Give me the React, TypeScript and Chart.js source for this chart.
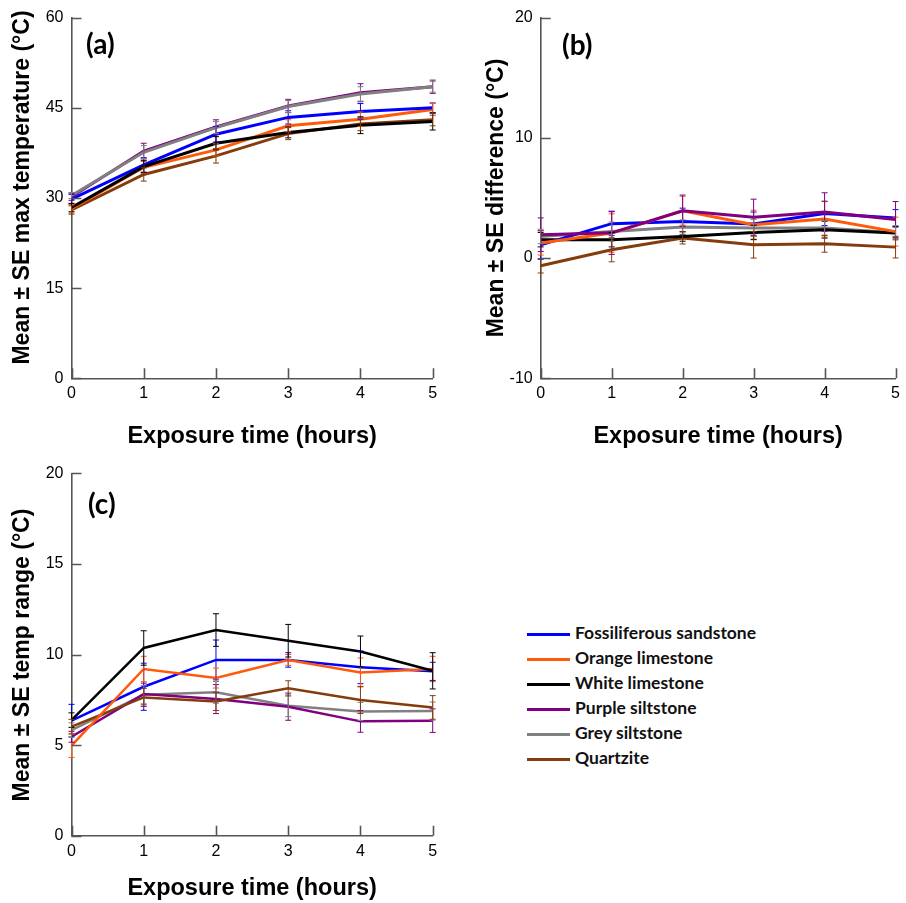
import React, { useEffect, useRef } from 'react';
import { Chart, registerables } from 'chart.js';

Chart.register(...registerables);

// ---------- data ----------
const hours = ['0', '1', '2', '3', '4', '5'];
const rockNames = [
  'Fossiliferous sandstone',
  'Orange limestone',
  'White limestone',
  'Purple siltstone',
  'Grey siltstone',
  'Quartzite',
];
const rockColors = ['#0000ff', '#ff5a0a', '#000000', '#800080', '#808080', '#843c0c'];

// (a) mean max temperature
const maxFossiliferous = [29.8, 35.5, 40.6, 43.4, 44.4, 45.0];
const maxOrange = [28.2, 35.1, 38.0, 42.0, 43.1, 44.7];
const maxWhite = [28.4, 35.2, 39.1, 40.9, 42.1, 42.7];
const maxPurple = [30.2, 37.8, 41.8, 45.3, 47.5, 48.5];
const maxGrey = [30.4, 37.6, 41.7, 45.2, 47.3, 48.5];
const maxQuartzite = [28.0, 33.9, 37.0, 40.7, 42.3, 43.0];
const maxFossiliferousSE = [0.8, 1.2, 1.3, 1.1, 1.3, 0.8];
const maxOrangeSE = [0.7, 1.0, 1.0, 1.0, 1.2, 1.0];
const maxWhiteSE = [0.7, 1.0, 1.1, 0.9, 1.4, 1.4];
const maxPurpleSE = [0.6, 1.3, 1.2, 1.1, 1.5, 1.1];
const maxGreySE = [0.5, 1.1, 1.0, 1.0, 1.2, 0.9];
const maxQuartziteSE = [0.7, 1.1, 1.2, 1.0, 1.1, 1.0];

// (b) mean difference
const diffFossiliferous = [1.1, 2.86, 3.05, 2.83, 3.7, 3.33];
const diffOrange = [1.25, 2.08, 3.94, 2.78, 3.25, 2.2];
const diffWhite = [1.53, 1.53, 1.8, 2.13, 2.36, 2.08];
const diffPurple = [1.94, 2.1, 3.94, 3.4, 3.83, 3.2];
const diffGrey = [1.8, 2.2, 2.58, 2.5, 2.5, 2.1];
const diffQuartzite = [-0.64, 0.69, 1.67, 1.1, 1.19, 0.91];
const diffFossiliferousSE = [1.2, 1.0, 1.1, 1.0, 1.0, 0.7];
const diffOrangeSE = [1.0, 1.6, 1.2, 1.2, 1.5, 1.2];
const diffWhiteSE = [0.6, 0.6, 0.4, 0.6, 0.7, 0.5];
const diffPurpleSE = [1.4, 1.8, 1.3, 1.5, 1.6, 1.5];
const diffGreySE = [0.6, 0.8, 0.6, 0.7, 0.6, 0.6];
const diffQuartziteSE = [0.6, 1.0, 0.5, 1.1, 0.7, 0.9];

// (c) mean temperature range
const rangeFossiliferous = [6.35, 8.22, 9.7, 9.7, 9.29, 9.07];
const rangeOrange = [4.97, 9.2, 8.7, 9.7, 9.01, 9.2];
const rangeWhite = [6.38, 10.36, 11.35, 10.76, 10.17, 9.1];
const rangePurple = [5.46, 7.82, 7.54, 7.12, 6.31, 6.35];
const rangeGrey = [5.83, 7.78, 7.91, 7.17, 6.86, 6.88];
const rangeQuartzite = [6.02, 7.63, 7.41, 8.13, 7.49, 7.08];
const rangeFossiliferousSE = [0.9, 1.3, 1.1, 0.4, 0.9, 0.5];
const rangeOrangeSE = [0.65, 0.7, 0.55, 0.3, 0.8, 0.7];
const rangeWhiteSE = [0.4, 0.95, 0.9, 0.9, 0.85, 1.0];
const rangePurpleSE = [0.3, 0.6, 0.8, 0.75, 0.6, 0.65];
const rangeGreySE = [0.4, 0.5, 0.6, 0.6, 0.5, 0.5];
const rangeQuartziteSE = [0.4, 0.5, 0.5, 0.42, 0.75, 0.65];

// ---------- styling ----------
const AXIS_COLOR = '#555555';
const SANS = '"Liberation Sans", Arial, sans-serif';
const LABEL_FONT = 'Lato, "Liberation Sans", sans-serif';

const decoPlugin = {
  id: 'panelDeco',
  afterDraw(chart: any, _args: any, opts: any) {
    const { ctx, chartArea } = chart;
    const xs = chart.scales.x;
    const ys = chart.scales.y;
    ctx.save();
    ctx.strokeStyle = AXIS_COLOR;
    ctx.lineWidth = 1.6;
    ctx.beginPath();
    const yTicks = ys.ticks || [];
    for (let i = 0; i < yTicks.length; i++) {
      const py = Math.round(ys.getPixelForValue(yTicks[i].value)) + 0.5;
      ctx.moveTo(chartArea.left, py);
      ctx.lineTo(chartArea.left + 10, py);
    }
    const xTicks = xs.ticks || [];
    for (let i = 0; i < xTicks.length; i++) {
      const px = Math.round(xs.getPixelForValue(i)) + 0.5;
      ctx.moveTo(px, chartArea.bottom);
      ctx.lineTo(px, chartArea.bottom - 10);
    }
    ctx.stroke();

    ctx.fillStyle = '#000';
    ctx.font = `bold 28px ${LABEL_FONT}`;
    ctx.textAlign = 'left';
    ctx.textBaseline = 'middle';
    ctx.fillText(opts.letter, opts.letterX, opts.letterY);

    ctx.translate(opts.yTitleX, opts.yTitleY);
    ctx.rotate(-Math.PI / 2);
    ctx.font = `bold 23px ${SANS}`;
    ctx.textAlign = 'center';
    ctx.textBaseline = 'middle';
    ctx.fillText(opts.yTitle, 0, 0);
    ctx.restore();
  },
  afterDatasetsDraw(chart: any) {
    const { ctx } = chart;
    const ys = chart.scales.y;
    const xs = chart.scales.x;
    ctx.save();
    ctx.lineWidth = 1;
    chart.data.datasets.forEach((ds: any) => {
      const errs: number[] = ds.errors || [];
      ctx.strokeStyle = ds.borderColor;
      ctx.beginPath();
      ds.data.forEach((v: number, i: number) => {
        const e = errs[i] || 0;
        const px = xs.getPixelForValue(i);
        const top = ys.getPixelForValue(v + e);
        const bot = ys.getPixelForValue(v - e);
        ctx.moveTo(px, top);
        ctx.lineTo(px, bot);
        ctx.moveTo(px - 3, top);
        ctx.lineTo(px + 3, top);
        ctx.moveTo(px - 3, bot);
        ctx.lineTo(px + 3, bot);
      });
      ctx.stroke();
    });
    ctx.restore();
  },
};

type Geo = { left: number; top: number; W: number; H: number; l: number; t: number; r: number; b: number; xTitleCenter: number };

type PanelProps = {
  geo: Geo;
  means: number[][];
  errs: number[][];
  yMin: number;
  yMax: number;
  step: number;
  yTitle: string;
  letter: string;
  letterX: number;
  letterY: number;
  yTitleX: number;
  yTitleY: number;
  order: number[];
  lineWidth: number;
};

function Panel(p: PanelProps) {
  const ref = useRef<HTMLCanvasElement | null>(null);
  useEffect(() => {
    const canvas = ref.current;
    if (!canvas) return;
    const g = p.geo;
    const xTitleSize = 23.5;
    const xTitlePadB = Math.max(0, g.H - g.xTitleCenter - (xTitleSize * 1.2) / 2);
    const chart = new Chart(canvas, {
      type: 'line',
      data: {
        labels: hours,
        datasets: rockNames.map((name, i) => ({
          label: name,
          data: p.means[i],
          errors: p.errs[i],
          borderColor: rockColors[i],
          backgroundColor: rockColors[i],
          borderWidth: p.lineWidth,
          pointRadius: 0,
          tension: 0,
          fill: false,
          order: p.order[i],
        })) as any,
      },
      options: {
        animation: false,
        responsive: false,
        maintainAspectRatio: false,
        devicePixelRatio: 1,
        layout: { padding: { left: 0, top: g.t, right: g.W - g.r, bottom: 0 } },
        plugins: {
          legend: { display: false },
          tooltip: { enabled: false },
          panelDeco: {
            letter: p.letter,
            letterX: p.letterX,
            letterY: p.letterY,
            yTitle: p.yTitle,
            yTitleX: p.yTitleX,
            yTitleY: p.yTitleY,
          },
        } as any,
        scales: {
          x: {
            type: 'category',
            offset: false,
            grid: { display: false, drawTicks: false },
            border: { display: true, color: AXIS_COLOR, width: 1.6 },
            ticks: {
              color: '#000',
              font: { family: SANS, size: 16 },
              padding: 6,
              maxRotation: 0,
              autoSkip: false,
            },
            title: {
              display: true,
              text: 'Exposure time (hours)',
              color: '#000',
              font: { family: SANS, size: xTitleSize, weight: 'bold' },
              padding: { top: 0, bottom: xTitlePadB },
            },
            afterFit: (s: any) => {
              s.height = g.H - g.b;
            },
          },
          y: {
            type: 'linear',
            min: p.yMin,
            max: p.yMax,
            grid: { display: false, drawTicks: false },
            border: { display: true, color: AXIS_COLOR, width: 1.6 },
            ticks: {
              stepSize: p.step,
              color: '#000',
              font: { family: SANS, size: 16 },
              padding: 8,
            },
            afterFit: (s: any) => {
              s.width = g.l;
            },
          },
        },
      } as any,
      plugins: [decoPlugin as any],
    });
    return () => chart.destroy();
  }, []);
  const g = p.geo;
  return (
    <div style={{ position: 'absolute', left: g.left, top: g.top, width: g.W, height: g.H }}>
      <canvas ref={ref} width={g.W} height={g.H} style={{ width: g.W, height: g.H, display: 'block' }} />
    </div>
  );
}

const legendStyle: React.CSSProperties = {
  position: 'absolute',
  left: 527,
  top: 619.5,
};

export default function App() {
  return (
    <div style={{ position: 'absolute', left: 0, top: 0, width: 906, height: 903, background: '#fff', overflow: 'hidden' }}>
      <Panel
        geo={{ left: 0, top: 0, W: 450, H: 455, l: 71.5, t: 16.7, r: 432.7, b: 378.3, xTitleCenter: 437 }}
        means={[maxFossiliferous, maxOrange, maxWhite, maxPurple, maxGrey, maxQuartzite]}
        errs={[maxFossiliferousSE, maxOrangeSE, maxWhiteSE, maxPurpleSE, maxGreySE, maxQuartziteSE]}
        yMin={0}
        yMax={60}
        step={15}
        yTitle="Mean ± SE max temperature (°C)"
        letter="(a)"
        letterX={86}
        letterY={45}
        yTitleX={23}
        yTitleY={187.5}
        order={[3, 4, 0, 2, 1, 5]}
        lineWidth={3}
      />
      <Panel
        geo={{ left: 470, top: 0, W: 436, H: 455, l: 70.7, t: 16.7, r: 431.7, b: 378.3, xTitleCenter: 437 }}
        means={[diffFossiliferous, diffOrange, diffWhite, diffPurple, diffGrey, diffQuartzite]}
        errs={[diffFossiliferousSE, diffOrangeSE, diffWhiteSE, diffPurpleSE, diffGreySE, diffQuartziteSE]}
        yMin={-10}
        yMax={20}
        step={10}
        yTitle="Mean ± SE difference (°C)"
        letter="(b)"
        letterX={92}
        letterY={46}
        yTitleX={27}
        yTitleY={198}
        order={[2, 1, 3, 0, 4, 5]}
        lineWidth={3}
      />
      <Panel
        geo={{ left: 0, top: 455, W: 450, H: 448, l: 71.5, t: 18.3, r: 432.7, b: 380.7, xTitleCenter: 434 }}
        means={[rangeFossiliferous, rangeOrange, rangeWhite, rangePurple, rangeGrey, rangeQuartzite]}
        errs={[rangeFossiliferousSE, rangeOrangeSE, rangeWhiteSE, rangePurpleSE, rangeGreySE, rangeQuartziteSE]}
        yMin={0}
        yMax={20}
        step={5}
        yTitle="Mean ± SE temp range (°C)"
        letter="(c)"
        letterX={88}
        letterY={49.5}
        yTitleX={23}
        yTitleY={200}
        order={[2, 1, 0, 4, 5, 3]}
        lineWidth={2.5}
      />
      <div style={legendStyle}>
        {rockNames.map((name, i) => (
          <div key={name} style={{ display: 'flex', alignItems: 'center', height: 25 }}>
            <div style={{ width: 43, height: 3, background: rockColors[i], position: 'relative', top: 2 }} />
            <span
              style={{
                marginLeft: 5,
                fontFamily: LABEL_FONT,
                fontWeight: 'bold',
                fontSize: 17.5,
                color: '#111',
                whiteSpace: 'nowrap',
                lineHeight: '25px',
              }}
            >
              {name}
            </span>
          </div>
        ))}
      </div>
    </div>
  );
}
